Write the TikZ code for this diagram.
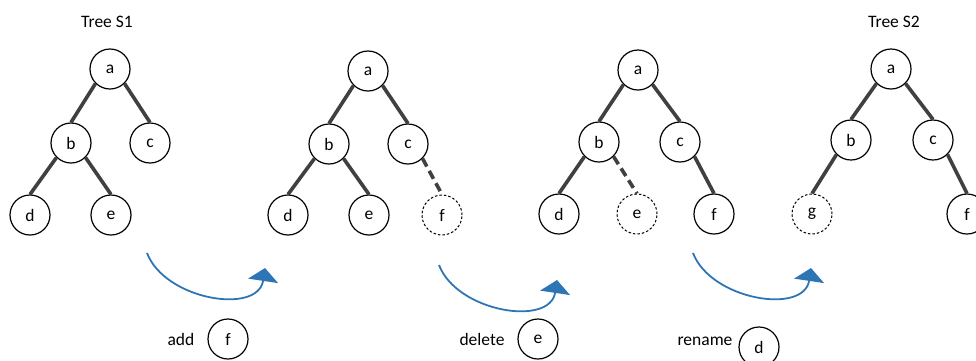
\documentclass[tikz,border=0pt]{standalone}
\usepackage{fontspec}
\setmainfont{Carlito}
\usepackage{tikz}
\usetikzlibrary{arrows.meta, positioning}

\begin{document}
\begin{tikzpicture}[x=1pt, y=-1pt,
    every node/.style={font=\fontsize{17.5pt}{21pt}\selectfont},
    % Tree nodes
    tnode/.style={circle, draw, line width=1.2pt, fill=white, minimum size=40pt, inner sep=0pt},
    tnew/.style={tnode, dash pattern=on 2.5pt off 2pt, line width=1pt},
    % Tree edges
    edge/.style={line width=3.6pt, draw=black!75},
    edgenew/.style={edge, dash pattern=on 9pt off 5pt},
    % Labels
    mytitle/.style={anchor=base},
    oplabel/.style={anchor=base},
    % Blue curved arrows
    steparrow/.style={-{Triangle[length=13pt, width=30pt]}, line width=1.8pt, draw=arrowblue}
]
\definecolor{arrowblue}{RGB}{46,117,182}
\useasboundingbox (0,0) rectangle (976,360);

% Tree S1
\node[mytitle] (title1) at (107,27) {Tree S1};
\node[tnode] (a1) at (110,69) {a};
\node[tnode] (b1) at (71,143) {b};
\node[tnode] (c1) at (150,143) {c};
\node[tnode] (d1) at (30,215) {d};
\node[tnode] (e1) at (111,215) {e};

% Tree after add
\node[tnode] (a2) at (368,71) {a};
\node[tnode] (b2) at (329,144) {b};
\node[tnode] (c2) at (408,144) {c};
\node[tnode] (d2) at (288,215) {d};
\node[tnode] (e2) at (369,215) {e};
\node[tnew] (f2) at (442,215) {f};

% Tree after delete
\node[tnode] (a3) at (638,70) {a};
\node[tnode] (b3) at (599,142) {b};
\node[tnode] (c3) at (680,142) {c};
\node[tnode] (d3) at (559,214) {d};
\node[tnew] (e3) at (637,214) {e};
\node[tnode] (f3) at (714,214) {f};

% Tree S2
\node[mytitle] (title2) at (894,27) {Tree S2};
\node[tnode] (a4) at (891,69) {a};
\node[tnode] (b4) at (851,140) {b};
\node[tnode] (c4) at (933,140) {c};
\node[tnew] (g4) at (812,214) {g};
\node[tnode] (f4) at (967,214) {f};

% Edges to left children
\foreach \p/\c in {a1/b1, b1/d1, a2/b2, b2/d2, a3/b3, b3/d3, a4/b4, b4/g4} {
    \draw[edge] (\p.south west) -- (\c.north);
}
% Edges to right children
\foreach \p/\c in {a1/c1, b1/e1, a2/c2, b2/e2, a3/c3, c3/f3, a4/c4, c4/f4} {
    \draw[edge] (\p.south east) -- (\c.north);
}
% Changed edges
\draw[edgenew] (c2.south east) -- (f2.north);
\draw[edgenew] (b3.south east) -- (e3.north);

% Curved arrows between trees
\foreach \n/\dx/\dy in {1/0/0, 2/292/12, 3/546/0} {
    \begin{scope}[shift={(\dx,\dy)}]
        \coordinate (s\n) at (147,253);
        \coordinate (t\n) at (265,268);
        \draw[steparrow] (s\n) .. controls (165,300) and (258,315) .. (t\n);
    \end{scope}
}

% Operations
\node[oplabel] (add) at (181,345) {add};
\node[tnode] (opf) at (228,339) {f};
\node[oplabel] (delete) at (482,345) {delete};
\node[tnode] (ope) at (538,339) {e};
\node[oplabel] (rename) at (705,345) {rename};
\node[tnode] (opd) at (759,347) {d};

\end{tikzpicture}
\end{document}
